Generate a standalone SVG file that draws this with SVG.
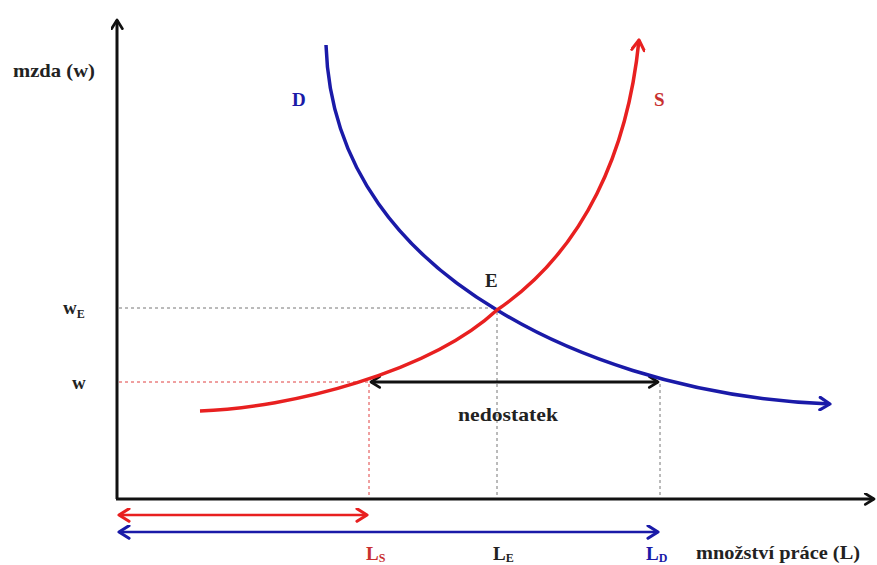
<svg xmlns="http://www.w3.org/2000/svg" width="877" height="565" viewBox="0 0 877 565">
<style>
text{font-family:"Liberation Serif","DejaVu Serif","Times New Roman",serif;font-weight:bold;}
.lbl{font-size:19px;fill:#222;}
.sub{font-size:12px;}
.axis{stroke:#111;stroke-width:3;fill:none;}
.dash{stroke:#777;stroke-width:1;stroke-dasharray:3,3;fill:none;}
.dashr{stroke:#e04040;stroke-width:1;stroke-dasharray:3,3;fill:none;}
</style>
<defs>
<marker id="ak" viewBox="0 0 12 12" refX="10" refY="6" markerWidth="13" markerHeight="13" markerUnits="userSpaceOnUse" orient="auto-start-reverse"><polyline points="2,1 10,6 2,11" fill="none" stroke="#111" stroke-width="2.5" stroke-linecap="round" stroke-linejoin="round"/></marker>
<marker id="ar" viewBox="0 0 12 12" refX="10" refY="6" markerWidth="15" markerHeight="15" markerUnits="userSpaceOnUse" orient="auto-start-reverse"><polyline points="2,1 10,6 2,11" fill="none" stroke="#e82020" stroke-width="2.5" stroke-linecap="round" stroke-linejoin="round"/></marker>
<marker id="ab" viewBox="0 0 12 12" refX="10" refY="6" markerWidth="15" markerHeight="15" markerUnits="userSpaceOnUse" orient="auto-start-reverse"><polyline points="2,1 10,6 2,11" fill="none" stroke="#1a1aa8" stroke-width="2.5" stroke-linecap="round" stroke-linejoin="round"/></marker>
</defs>
<rect width="877" height="565" fill="#fff"/>
<g id="axes">
<line class="axis" x1="117" y1="499" x2="117" y2="20" marker-end="url(#ak)"/>
<line class="axis" x1="116" y1="499" x2="874" y2="499" marker-end="url(#ak)"/>
</g>
<g id="connectors">
<line class="dash" x1="119" y1="308" x2="497" y2="308"/>
<line class="dashr" x1="119" y1="382" x2="369" y2="382"/>
<line class="dashr" x1="369" y1="384" x2="369" y2="497"/>
<line class="dash" x1="497" y1="312" x2="497" y2="497"/>
<line class="dash" x1="660" y1="384" x2="660" y2="497"/>
<line x1="371" y1="382" x2="658" y2="382" stroke="#111" stroke-width="3" marker-start="url(#ak)" marker-end="url(#ak)"/>
<line x1="119" y1="515" x2="367" y2="515" stroke="#e82020" stroke-width="2.5" marker-start="url(#ar)" marker-end="url(#ar)"/>
<line x1="119" y1="532" x2="658" y2="532" stroke="#1a1aa8" stroke-width="2.5" marker-start="url(#ab)" marker-end="url(#ab)"/>
</g>
<g id="curve-D">
<path d="M326,45 C330,170 405,255 497,310 C565,352 680,398 830,404" fill="none" stroke="#1a1aa8" stroke-width="3.5" marker-end="url(#ab)"/>
</g>
<g id="curve-S">
<path d="M200,411 C290,408 430,372 497,310 C585,250 628,150 639,40" fill="none" stroke="#e82020" stroke-width="3.5" marker-end="url(#ar)"/>
</g>
<g id="labels">
<text class="lbl" x="13" y="77" textLength="82" lengthAdjust="spacingAndGlyphs">mzda (w)</text>
<text class="lbl" x="292" y="106" style="fill:#1a1aa8">D</text>
<text class="lbl" x="654" y="106" style="fill:#c83030">S</text>
<text class="lbl" x="485" y="287">E</text>
<text class="lbl" x="63" y="314">w<tspan class="sub" dy="4">E</tspan></text>
<text class="lbl" x="72" y="389">w</text>
<text class="lbl" x="458" y="421" textLength="100" lengthAdjust="spacingAndGlyphs">nedostatek</text>
<text class="lbl" x="366" y="560" style="fill:#c83030">L<tspan class="sub" dy="2">S</tspan></text>
<text class="lbl" x="493" y="560">L<tspan class="sub" dy="2">E</tspan></text>
<text class="lbl" x="646" y="560" style="fill:#1a1aa8">L<tspan class="sub" dy="2">D</tspan></text>
<text class="lbl" x="696" y="559" textLength="164" lengthAdjust="spacingAndGlyphs">množství práce (L)</text>
</g>
</svg>
